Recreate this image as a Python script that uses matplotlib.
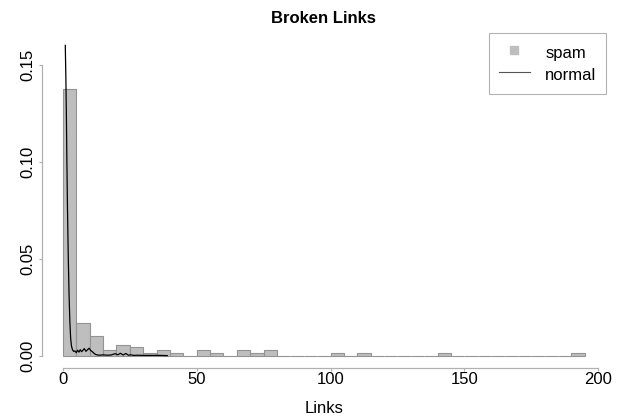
import numpy as np
import matplotlib
matplotlib.use("Agg")
import matplotlib.pyplot as plt
from matplotlib.lines import Line2D

plt.rcParams['font.family'] = ['Liberation Sans', 'DejaVu Sans']

# histogram of spam link counts, bins of width 5, left edges 0 .. 190
bin_edges = np.arange(0, 195, 5)
spam_counts = [97, 12, 7, 2, 4, 3, 1, 2, 1, 0,
               2, 1, 0, 2, 1, 2, 0, 0, 0, 0,
               1, 0, 1, 0, 0, 0, 0, 0, 1, 0,
               0, 0, 0, 0, 0, 0, 0, 0, 1]

# density curve of the normal pages
normal_x = [0.9, 1.1, 1.3, 1.5, 1.7, 2.0, 2.3, 2.6, 2.9, 3.2, 3.6, 4.0, 4.5, 5.0,
            5.5, 6.0, 6.5, 7.0, 7.5, 8.0, 8.6, 9.2, 9.8, 10.4, 11.0, 11.6, 12.2,
            13.0, 14.0, 15.0, 16.5, 18.0, 19.5, 20.5, 21.5, 22.5, 23.5, 24.5,
            25.5, 26.5, 28.0, 30.0, 33.0, 36.0, 39.0]
normal_y = [0.160, 0.145, 0.125, 0.100, 0.078, 0.052, 0.032, 0.018, 0.009, 0.005,
            0.0030, 0.0022, 0.0024, 0.0015, 0.0028, 0.0018, 0.0030, 0.0020, 0.0028,
            0.0036, 0.0022, 0.0030, 0.0038, 0.0026, 0.0020, 0.0012, 0.0006,
            0.0003, 0.0002, 0.0004, 0.0002, 0.0003, 0.0010, 0.0004, 0.0012, 0.0003,
            0.0011, 0.0002, 0.0004, 0.0001, 0.0002, 0.0001, 0.0001, 0.0001, 0.0]

x_ticks = [0, 50, 100, 150, 200]
y_ticks = [0.00, 0.05, 0.10, 0.15]

n_total = sum(spam_counts)
density = np.array(spam_counts) / (n_total * 5.0)

fig = plt.figure(figsize=(6.24, 4.17), dpi=100)
ax = fig.add_axes([0.0673, 0.1175, 0.9034, 0.8034])

ax.bar(bin_edges, density, width=5, align='edge', color='#bebebe',
       edgecolor='#939393', linewidth=0.8)
ax.plot(normal_x, normal_y, color='black', linewidth=0.9)

ax.set_xlim(-7.8, 202.8)
ax.set_ylim(-0.0064, 0.1664)
for s in ['top', 'right']:
    ax.spines[s].set_visible(False)
for s in ['left', 'bottom']:
    ax.spines[s].set_color('#b0b0b0')
    ax.spines[s].set_linewidth(0.9)
ax.spines['bottom'].set_bounds(0, 200)
ax.spines['left'].set_bounds(0, 0.15)

ax.set_xticks(x_ticks)
ax.set_xticklabels([str(t) for t in x_ticks])
ax.set_yticks(y_ticks)
ax.set_yticklabels(['%.2f' % t for t in y_ticks], rotation=90, va='center')
ax.tick_params(axis='both', length=2.5, width=0.8, color='#b0b0b0',
               labelsize=12, pad=0.5)
ax.tick_params(axis='y', pad=2)

ax.set_xlabel('Links', fontsize=12, labelpad=10)
ax.set_title('Broken Links', fontsize=12, fontweight='bold', pad=7)

handles = [Line2D([], [], marker='s', linestyle='none', color='#bebebe', markersize=6),
           Line2D([], [], color='#555555', linewidth=0.8)]
leg = ax.legend(handles, ['spam', 'normal'], loc='upper right', fontsize=12,
                frameon=True, fancybox=False, borderaxespad=0, handlelength=1.9,
                handleheight=1.5, handletextpad=0.9, borderpad=0.55, labelspacing=0.1)
leg.get_frame().set_edgecolor('#a0a0a0')
leg.get_frame().set_linewidth(0.8)

fig.savefig('out.png', dpi=100)
